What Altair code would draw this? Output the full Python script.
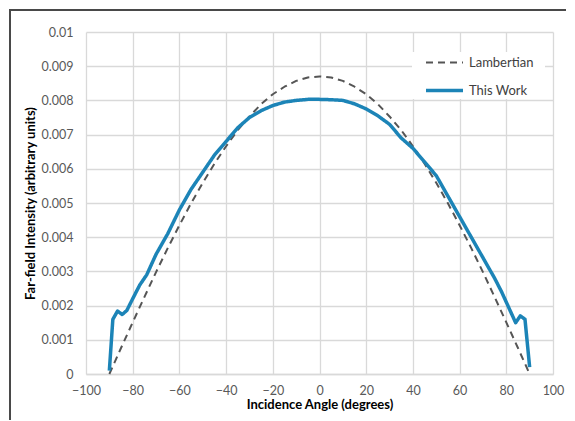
import altair as alt
import pandas as pd

# Lambertian reference curve
lam_angle = [-90, -85, -80, -75, -70, -65, -60, -55, -50, -45, -40, -35, -30, -25, -20, -15, -10, -5, 0,
             5, 10, 15, 20, 25, 30, 35, 40, 45, 50, 55, 60, 65, 70, 75, 80, 85, 90]
lam_value = [0.0, 0.00076, 0.00151, 0.00225, 0.00298, 0.00368, 0.00435, 0.00499, 0.00559, 0.00615,
             0.00666, 0.00713, 0.00753, 0.00789, 0.00818, 0.00840, 0.00857, 0.00867, 0.0087,
             0.00867, 0.00857, 0.00840, 0.00818, 0.00789, 0.00753, 0.00713, 0.00666, 0.00615,
             0.00559, 0.00499, 0.00435, 0.00368, 0.00298, 0.00225, 0.00151, 0.00076, 0.0]

tw_angle = [-90, -88.5, -86.5, -84.5, -82.5, -80, -77, -74, -70, -65, -60, -55, -50, -45, -40, -35, -30,
            -25, -20, -15, -10, -5, 0, 5, 10, 15, 20, 25, 30, 35, 40, 45, 50, 55, 60, 65, 70, 75,
            78, 80, 82, 84, 86, 88, 90]
tw_value = [0.0001, 0.0016, 0.00184, 0.00174, 0.00186, 0.0022, 0.0026, 0.0029, 0.0035, 0.0041, 0.0048,
            0.0054, 0.0059, 0.0064, 0.0068, 0.0072, 0.0075, 0.0077, 0.00785, 0.00795, 0.0080, 0.00803,
            0.00803, 0.00802, 0.0080, 0.0079, 0.00775, 0.00755, 0.0073, 0.0069, 0.0066, 0.0062, 0.0058,
            0.0052, 0.0046, 0.0040, 0.0034, 0.0028, 0.0024, 0.0021, 0.0018, 0.0015, 0.0017, 0.0016,
            0.0002]

series_names = ["Lambertian", "This Work"]
x_ticks = [-100, -80, -60, -40, -20, 0, 20, 40, 60, 80, 100]
y_ticks = [0, 0.001, 0.002, 0.003, 0.004, 0.005, 0.006, 0.007, 0.008, 0.009, 0.01]

df = pd.concat([
    pd.DataFrame({"angle": lam_angle, "value": lam_value, "series": series_names[0], "order": range(len(lam_angle))}),
    pd.DataFrame({"angle": tw_angle, "value": tw_value, "series": series_names[1], "order": range(len(tw_angle))}),
])

FONT = "Lato"


def make_legend():
    return alt.Legend(title=None, orient="none", legendX=326, legendY=7,
                      padding=4, symbolOffset=8,
                      symbolType="stroke", symbolSize=1369,
                      rowPadding=-15, labelFontSize=13, labelColor="#404040",
                      labelFont=FONT, labelOffset=4)


lines = alt.Chart(df).mark_line(strokeJoin="round", strokeCap="butt").encode(
    x=alt.X("angle:Q", scale=alt.Scale(domain=[-100, 100], nice=False),
            axis=alt.Axis(values=x_ticks, title="Incidence Angle (degrees)", labelFlush=False)),
    y=alt.Y("value:Q", scale=alt.Scale(domain=[0, 0.01], nice=False),
            axis=alt.Axis(values=y_ticks, format=".3~f", title="Far-field Intensity (arbitrary units)",
                          labelFlush=False)),
    color=alt.Color("series:N", scale=alt.Scale(domain=series_names, range=["#555555", "#1C84B7"]),
                    legend=make_legend()),
    strokeDash=alt.StrokeDash("series:N", scale=alt.Scale(domain=series_names, range=[[7, 5], [1, 0]]),
                              legend=make_legend()),
    strokeWidth=alt.StrokeWidth("series:N", scale=alt.Scale(domain=series_names, range=[2, 3.5]),
                                legend=make_legend()),
    order="order:Q",
)

# white backing box behind the legend (decoration, hides grid lines)
legend_box = alt.Chart(df).mark_rect(color="white").encode(
    x=alt.value(326), x2=alt.value(459), y=alt.value(20), y2=alt.value(67)
)

border_top = alt.Chart(df).mark_rule(color="#4a4a4a", strokeWidth=1.6).encode(
    x=alt.value(-77), x2=alt.value(480), y=alt.value(-22)
)
border_left = alt.Chart(df).mark_rule(color="#4a4a4a", strokeWidth=1.6).encode(
    x=alt.value(-76), y=alt.value(-23), y2=alt.value(420)
)

chart = alt.layer(border_top, border_left, legend_box, lines).properties(
    width=467, height=342,
    autosize=alt.AutoSizeParams(type="none"),
    padding={"left": 78, "top": 24, "right": 14, "bottom": 46},
).configure_view(stroke=None).configure_axis(
    grid=True, gridColor="#d9d9d9", gridWidth=1.3, ticks=False,
    labelFont=FONT, labelFontSize=12.5, labelColor="#595959",
    titleFont=FONT, titleFontSize=13, titleFontWeight="bold", titleColor="#000000",
).configure_axisX(
    domain=True, domainColor="#d9d9d9", domainWidth=1.3, labelPadding=10, titlePadding=2,
).configure_axisY(
    domain=False, labelPadding=13, titlePadding=4,
)

chart.save("out.html", embed_options={"renderer": "svg", "actions": False})
